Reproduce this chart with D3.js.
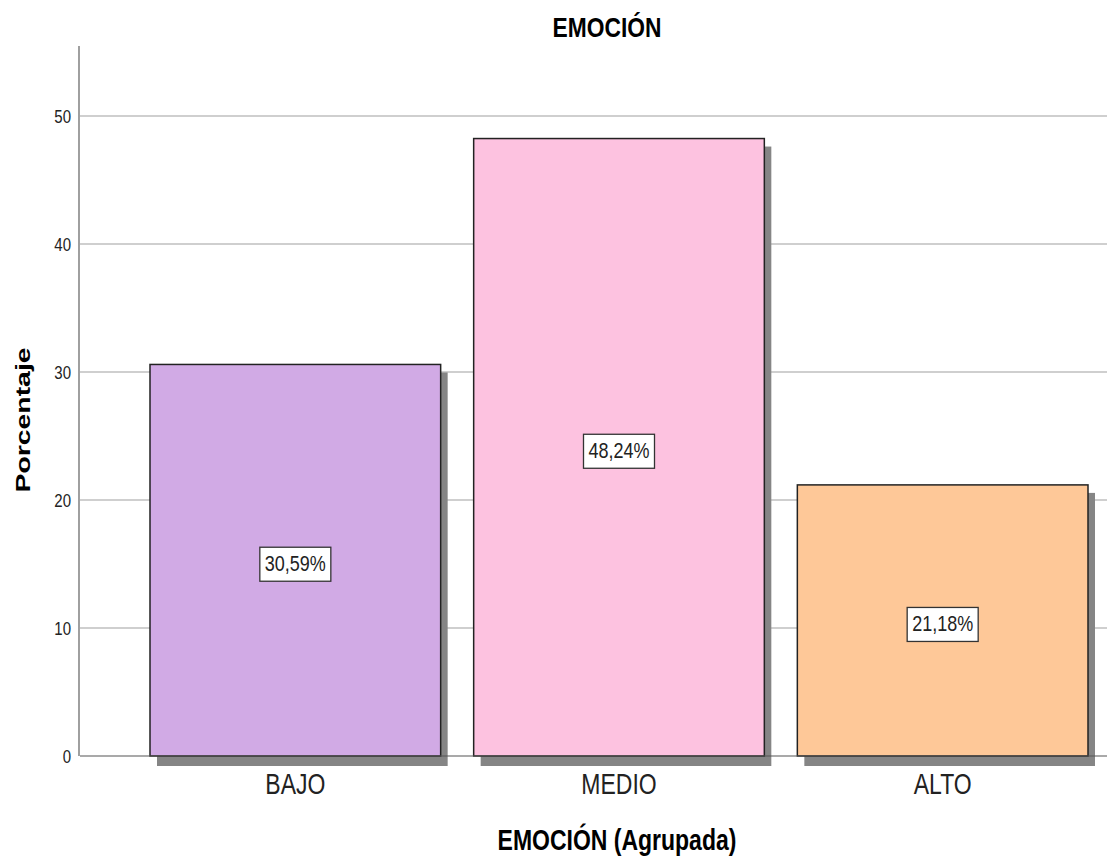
<!DOCTYPE html>
<html><head><meta charset="utf-8">
<script src="https://cdn.jsdelivr.net/npm/d3@7"></script>
<style>body{margin:0;background:#fff}svg{display:block}</style>
</head><body>
<svg id="c" width="1107" height="857"></svg>
<script>
const categories = ["BAJO", "MEDIO", "ALTO"];
const values = [30.59, 48.24, 21.18];
const valueLabels = ["30,59%", "48,24%", "21,18%"];
const colors = ["#d1aae5", "#fdc2e0", "#fec898"];
const yTicks = [0, 10, 20, 30, 40, 50];
const title = "EMOCIÓN";
const xTitle = "EMOCIÓN (Agrupada)";
const yTitle = "Porcentaje";

const svg = d3.select("#c");
const FONT = "'Liberation Sans', Arial, sans-serif";
const SY = 1.25;

const x = d3.scaleBand().domain(categories).range([150, 1088]).paddingInner(0.102).paddingOuter(0);
const y = d3.scaleLinear().domain([0, 55.47]).range([756, 46]);

// gridlines
svg.append("g").selectAll("line").data(yTicks.filter(d => d > 0)).join("line")
  .attr("x1", 80).attr("x2", 1107)
  .attr("y1", d => y(d)).attr("y2", d => y(d))
  .attr("stroke", "#cfcfcf").attr("stroke-width", 2);

// shadows
const bars = svg.append("g");
bars.selectAll("rect.sh").data(values).join("rect").attr("class", "sh")
  .attr("x", (d, i) => x(categories[i]) + 7)
  .attr("y", d => y(d) + 8)
  .attr("width", x.bandwidth())
  .attr("height", d => y(0) - y(d) + 2)
  .attr("fill", "#858585");

// baseline
svg.append("line").attr("x1", 80).attr("x2", 1107).attr("y1", y(0)).attr("y2", y(0))
  .attr("stroke", "#555").attr("stroke-width", 1.2);

// bars
bars.selectAll("rect.b").data(values).join("rect").attr("class", "b")
  .attr("x", (d, i) => x(categories[i]))
  .attr("y", d => y(d))
  .attr("width", x.bandwidth())
  .attr("height", d => y(0) - y(d))
  .attr("fill", (d, i) => colors[i])
  .attr("stroke", "#222").attr("stroke-width", 1.5);

// y axis
const yAxis = svg.append("g");
yAxis.append("line").attr("x1", 79).attr("x2", 79).attr("y1", 46).attr("y2", y(0))
  .attr("stroke", "#888").attr("stroke-width", 1.6);
yAxis.selectAll("g.t").data(yTicks).join("g").attr("class", "t")
  .attr("transform", d => `translate(71,${y(d) + 7}) scale(1,${SY})`)
  .append("text").attr("text-anchor", "end")
  .attr("font-family", FONT).attr("font-size", 15).attr("fill", "#222")
  .text(d => d);

// value labels
const lab = svg.append("g").selectAll("g").data(values).join("g")
  .attr("transform", (d, i) => `translate(${x(categories[i]) + x.bandwidth() / 2},${y(d / 2) + 4})`);
lab.append("rect").attr("x", -35.5).attr("y", -17).attr("width", 71).attr("height", 34)
  .attr("fill", "#fff").attr("stroke", "#333").attr("stroke-width", 1.3);
lab.append("g").attr("transform", `translate(0,7) scale(1,${SY})`)
  .append("text").attr("text-anchor", "middle")
  .attr("font-family", FONT).attr("font-size", 18).attr("fill", "#222")
  .text((d, i) => valueLabels[i]);

// category labels
svg.append("g").selectAll("g").data(categories).join("g")
  .attr("transform", d => `translate(${x(d) + x.bandwidth() / 2},794) scale(1,${SY})`)
  .append("text").attr("text-anchor", "middle")
  .attr("font-family", FONT).attr("font-size", 23).attr("fill", "#222")
  .text(d => d);

// title
svg.append("g").attr("transform", `translate(607,37) scale(1,${SY})`)
  .append("text").attr("text-anchor", "middle").attr("font-family", FONT)
  .attr("font-weight", "bold").attr("font-size", 22.8).attr("fill", "#000").text(title);

// x title
svg.append("g").attr("transform", `translate(617,850) scale(1,${SY})`)
  .append("text").attr("text-anchor", "middle").attr("font-family", FONT)
  .attr("font-weight", "bold").attr("font-size", 23).attr("fill", "#000").text(xTitle);

// y title
svg.append("g").attr("transform", `translate(30,420) rotate(-90) scale(1.42,1)`)
  .append("text").attr("text-anchor", "middle").attr("font-family", FONT)
  .attr("font-weight", "bold").attr("font-size", 20).attr("fill", "#000").text(yTitle);
</script>
</body></html>
